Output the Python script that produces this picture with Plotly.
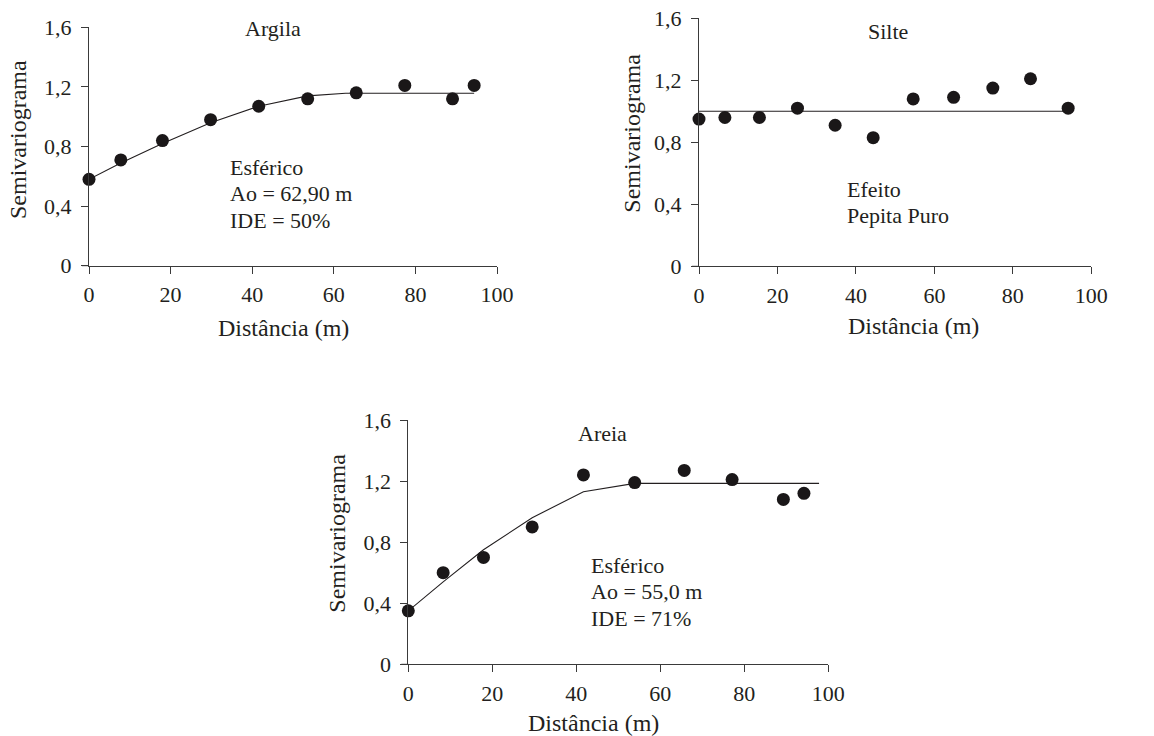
import plotly.graph_objects as go

W, H = 1154, 736

# ---- data ----
argila_x = [0, 7.8, 18.0, 29.8, 41.6, 53.6, 65.5, 77.4, 89.1, 94.4]
argila_y = [0.58, 0.71, 0.84, 0.98, 1.07, 1.12, 1.16, 1.21, 1.12, 1.21]
argila_model_x = [0, 7.8, 18.0, 29.8, 41.6, 53.6, 62.9, 94.4]
argila_model_y = [0.58, 0.69, 0.82, 0.96, 1.07, 1.14, 1.157, 1.157]

silte_x = [0, 6.6, 15.4, 25.1, 34.7, 44.4, 54.6, 64.9, 74.9, 84.5, 94.1]
silte_y = [0.95, 0.96, 0.96, 1.02, 0.91, 0.83, 1.08, 1.09, 1.15, 1.21, 1.02]
silte_model_x = [0, 94.1]
silte_model_y = [1.0, 1.0]

areia_x = [0, 8.3, 17.9, 29.5, 41.7, 53.9, 65.7, 77.1, 89.3, 94.2]
areia_y = [0.35, 0.60, 0.70, 0.90, 1.24, 1.19, 1.27, 1.21, 1.08, 1.12]
areia_model_x = [0, 8.3, 17.9, 29.5, 41.7, 53.9, 97.8]
areia_model_y = [0.35, 0.54, 0.75, 0.96, 1.13, 1.185, 1.185]

x_ticks = [0, 20, 40, 60, 80, 100]
y_ticks = [0, 0.4, 0.8, 1.2, 1.6]
y_tick_text = ["0", "0,4", "0,8", "1,2", "1,6"]

FONT = "Liberation Serif, Times New Roman, serif"
TXT = "#231f20"
FS_TICK = 22
FS_ANN = 22
FS_TITLE = 24
AXC = "#3a3a3a"


def px_x(p):
    return p / W


def px_y(p):
    return 1 - p / H


fig = go.Figure()

panels = [
    (argila_x, argila_y, argila_model_x, argila_model_y, "", (89, 497), (27.3, 265.7)),
    (silte_x, silte_y, silte_model_x, silte_model_y, "2", (699, 1091.3), (18.3, 266.3)),
    (areia_x, areia_y, areia_model_x, areia_model_y, "3", (408.3, 828.3), (420, 664.3)),
]

layout_axes = {}
shapes = []
for xs, ys, mx, my, s, (x0, x1), (yt, yb) in panels:
    xa = "x" + s
    ya = "y" + s
    fig.add_trace(go.Scatter(x=mx, y=my, mode="lines", xaxis=xa, yaxis=ya,
                             line=dict(color="#231f20", width=1.1),
                             cliponaxis=False, showlegend=False))
    fig.add_trace(go.Scatter(x=xs, y=ys, mode="markers", xaxis=xa, yaxis=ya,
                             marker=dict(color="#1a1718", size=13),
                             cliponaxis=False, showlegend=False))
    common = dict(showline=True, linecolor=AXC, linewidth=1,
                  ticks="outside", ticklen=7, tickcolor=AXC, tickwidth=1,
                  showgrid=False, zeroline=False, automargin=False,
                  tickfont=dict(family=FONT, size=FS_TICK, color=TXT))
    layout_axes["xaxis" + s] = dict(common, domain=[px_x(x0), px_x(x1)],
                                    range=[0, 100], tickvals=x_ticks,
                                    ticklabelstandoff=2, anchor=ya)
    layout_axes["yaxis" + s] = dict(common, domain=[px_y(yb), px_y(yt)],
                                    range=[0, 1.6], tickvals=y_ticks,
                                    ticktext=y_tick_text, ticklabelstandoff=5,
                                    anchor=xa)
    shapes.append(dict(type="line", xref="paper", yref="paper",
                       x0=px_x(x0 - 7), x1=px_x(x0), y0=px_y(yb), y1=px_y(yb),
                       line=dict(color=AXC, width=1)))

annotations = []


def txt(text, x, y, size, xanchor="center", angle=0):
    annotations.append(dict(text=text, x=px_x(x), y=px_y(y), xref="paper", yref="paper",
                            xanchor=xanchor, yanchor="middle", showarrow=False,
                            textangle=angle, font=dict(family=FONT, size=size, color=TXT)))


# Panel titles
txt("Argila", 272.7, 29, FS_ANN)
txt("Silte", 888.3, 31.7, FS_ANN)
txt("Areia", 602.7, 433.3, FS_ANN)

# model annotations
for i, t in enumerate(["Esférico", "Ao = 62,90 m", "IDE = 50%"]):
    txt(t, 228, 167 + i * 26.7, FS_ANN, xanchor="left")
for i, t in enumerate(["Efeito", "Pepita Puro"]):
    txt(t, 845, 189.3 + i * 26.7, FS_ANN, xanchor="left")
for i, t in enumerate(["Esférico", "Ao = 55,0 m", "IDE = 71%"]):
    txt(t, 588.5, 565 + i * 26.7, FS_ANN, xanchor="left")

# axis titles
txt("Semivariograma", 18, 140, FS_TITLE, angle=-90)
txt("Distância (m)", 283, 328, FS_TITLE)
txt("Semivariograma", 631.7, 133, FS_TITLE, angle=-90)
txt("Distância (m)", 913, 326, FS_TITLE)
txt("Semivariograma", 336.7, 533, FS_TITLE, angle=-90)
txt("Distância (m)", 593, 723, FS_TITLE)

fig.update_layout(width=W, height=H, margin=dict(l=0, r=0, t=0, b=0, autoexpand=False),
                  paper_bgcolor="white", plot_bgcolor="white",
                  showlegend=False, annotations=annotations, shapes=shapes,
                  font=dict(family=FONT, size=FS_TICK, color=TXT),
                  **layout_axes)

fig.write_html("out.html", config={"displayModeBar": False},
               post_script="document.body.style.margin='0';document.body.style.overflow='hidden';")
